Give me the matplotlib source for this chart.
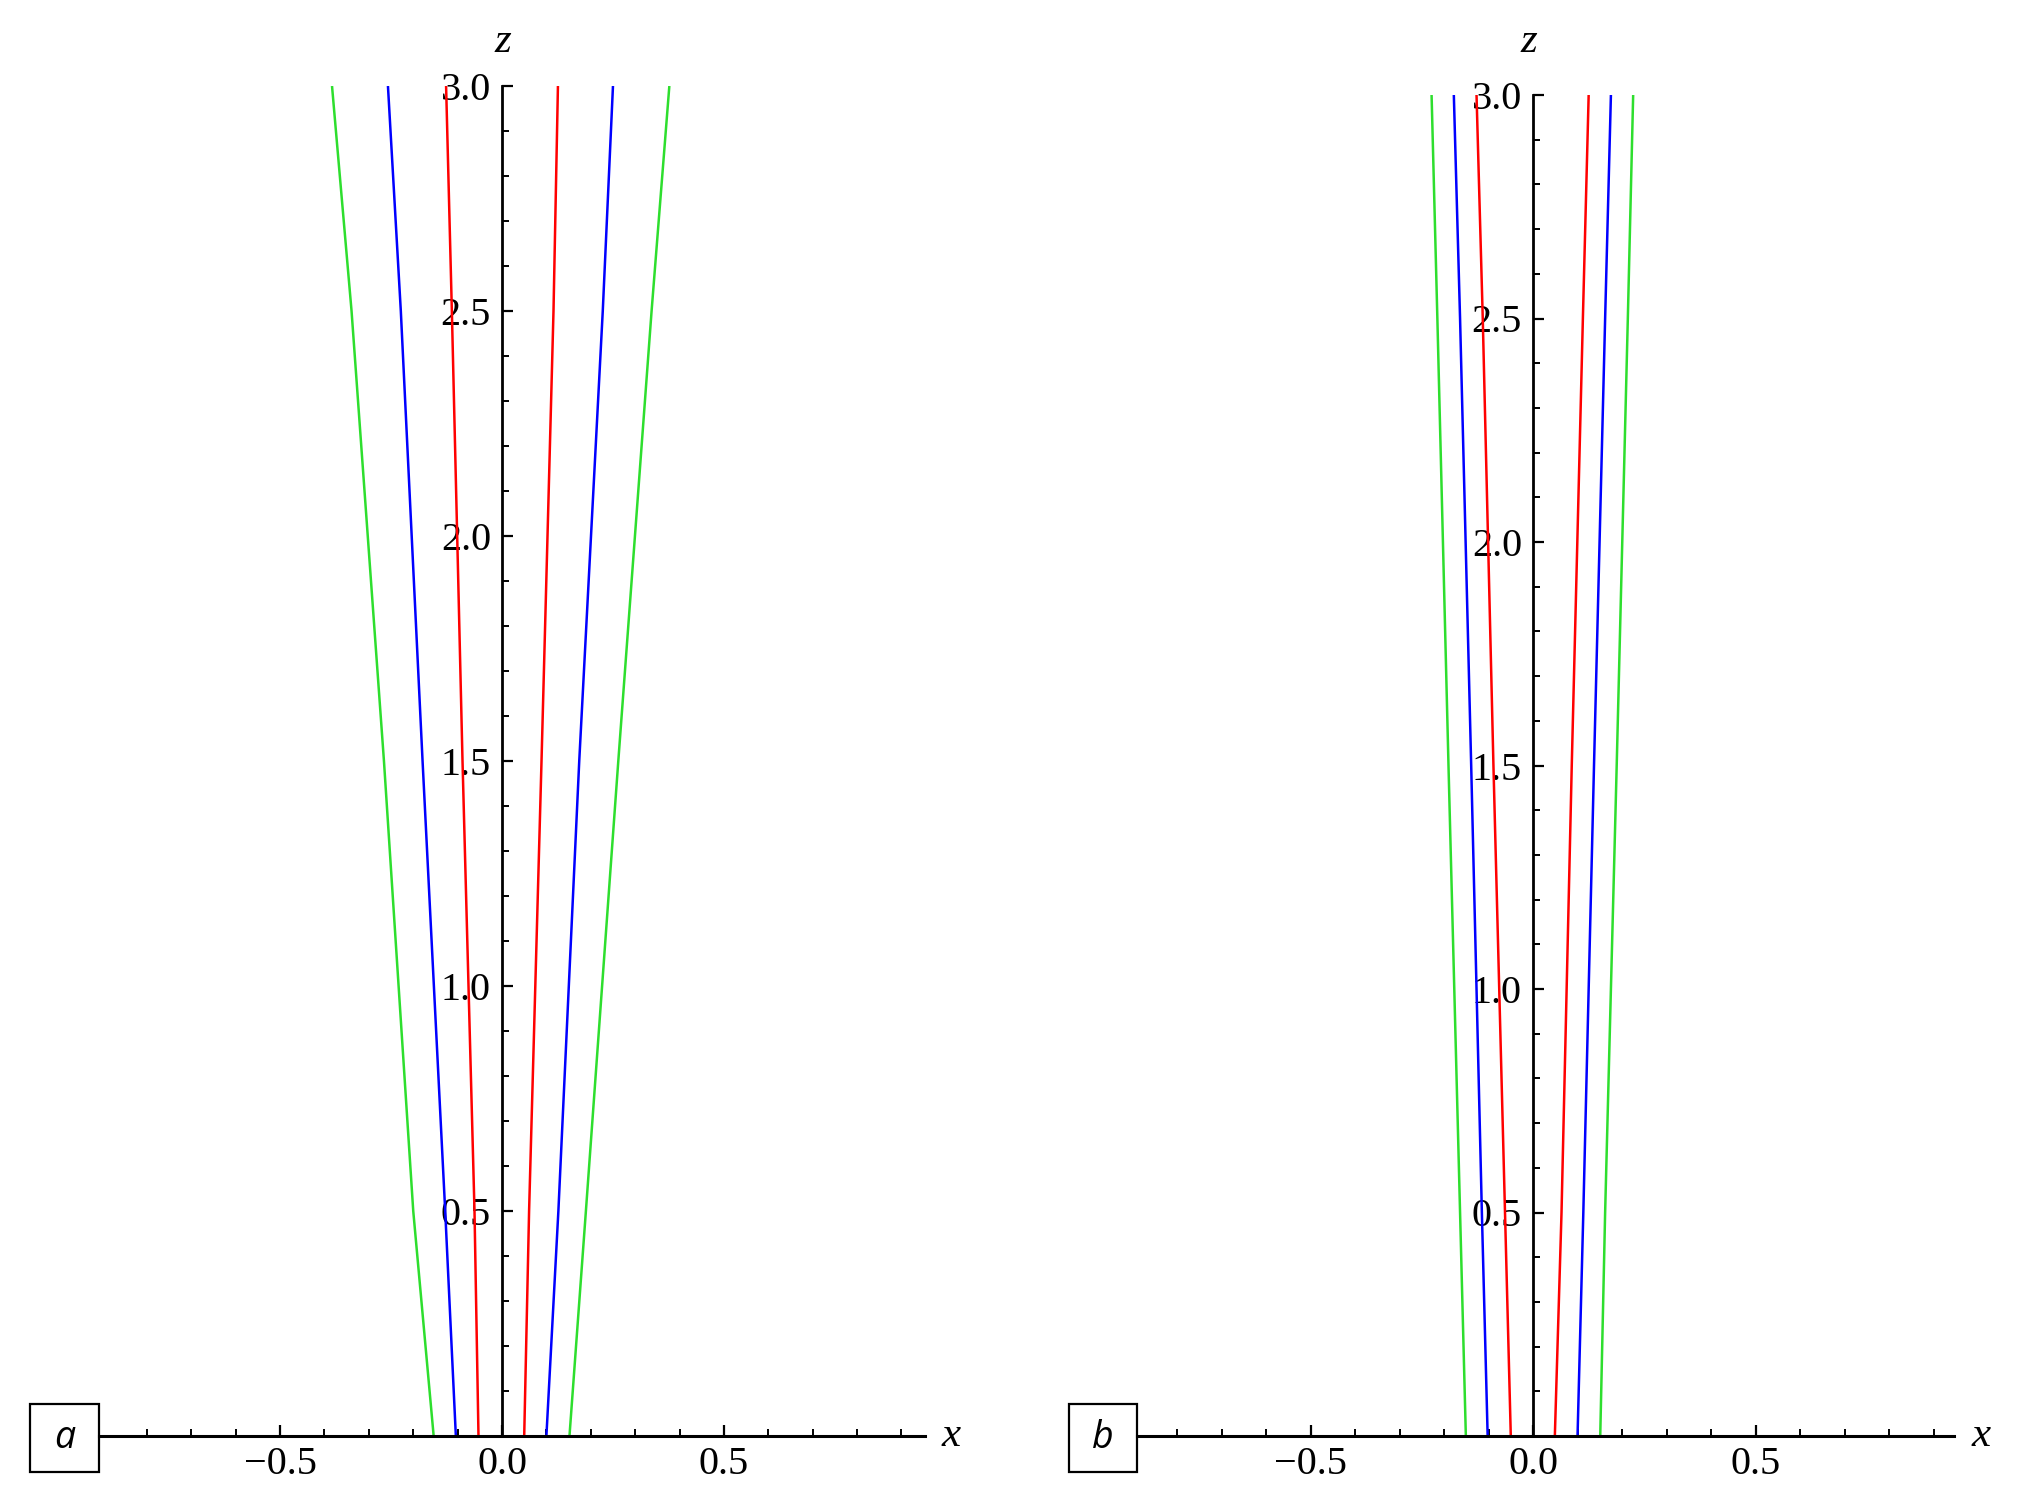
import matplotlib
matplotlib.use("Agg")
import matplotlib.pyplot as plt
from matplotlib.patches import Rectangle
import numpy as np

# ---- data ----
z_levels = [0.0, 0.5, 1.5, 2.5, 3.0]

a_red_left = [-0.053, -0.062, -0.089, -0.113, -0.126]
a_red_right = [0.050, 0.061, 0.089, 0.116, 0.126]
a_blue_left = [-0.104, -0.128, -0.179, -0.228, -0.257]
a_blue_right = [0.100, 0.127, 0.174, 0.227, 0.250]
a_green_left = [-0.154, -0.200, -0.266, -0.339, -0.383]
a_green_right = [0.152, 0.189, 0.262, 0.337, 0.377]

b_red_left = [-0.050, -0.063, -0.089, -0.113, -0.127]
b_red_right = [0.049, 0.064, 0.087, 0.112, 0.125]
b_blue_left = [-0.102, -0.115, -0.139, -0.164, -0.178]
b_blue_right = [0.100, 0.113, 0.137, 0.162, 0.175]
b_green_left = [-0.151, -0.164, -0.190, -0.215, -0.228]
b_green_right = [0.151, 0.162, 0.188, 0.213, 0.225]

x_major = [-0.5, 0.0, 0.5]
x_major_labels = ["\u22120.5", "0.0", "0.5"]
x_minor = [-0.8, -0.7, -0.6, -0.4, -0.3, -0.2, -0.1, 0.1, 0.2, 0.3, 0.4, 0.6, 0.7, 0.8, 0.9]
z_major = [0.5, 1.0, 1.5, 2.0, 2.5, 3.0]
z_major_labels = ["0.5", "1.0", "1.5", "2.0", "2.5", "3.0"]
z_minor = [round(0.1 * i, 1) for i in range(1, 30) if i % 5 != 0]

panel_labels = ["a", "b"]

RED = "#ff0000"
BLUE = "#0000ff"
GREEN = "#2ede2e"

W, H = 2020, 1495
fig = plt.figure(figsize=(W / 100, H / 100), dpi=100)

def px_axes(left, right, top, bottom):
    return fig.add_axes([left / W, (H - bottom) / H, (right - left) / W, (bottom - top) / H])

serif = ["Liberation Serif", "DejaVu Serif"]

def setup(ax, xlim):
    ax.set_xlim(*xlim)
    ax.set_ylim(0, 3.0)
    for s in ["top", "right"]:
        ax.spines[s].set_visible(False)
    ax.spines["left"].set_position(("data", 0))
    ax.spines["left"].set_linewidth(2.0)
    ax.spines["bottom"].set_linewidth(2.2)
    ax.set_xticks(x_major)
    ax.set_xticklabels(x_major_labels)
    ax.set_xticks(x_minor, minor=True)
    ax.set_yticks(z_major)
    ax.set_yticklabels(z_major_labels)
    ax.set_yticks(z_minor, minor=True)
    ax.tick_params(axis="both", which="major", direction="in", length=8, width=1.6,
                   labelsize=29, color="black")
    ax.tick_params(axis="both", which="minor", direction="in", length=5, width=1.4,
                   color="black")
    ax.tick_params(axis="x", which="major", pad=7)
    ax.tick_params(axis="y", which="major", pad=8)
    for lab in ax.get_xticklabels() + ax.get_yticklabels():
        lab.set_family(serif)
    ax.patch.set_visible(False)

def draw_box(xl, xr, yt, yb, text):
    fig.add_artist(Rectangle((xl / W, (H - yb) / H), (xr - xl) / W, (yb - yt) / H,
                             transform=fig.transFigure, fill=False, lw=1.6, ec="black"))
    fig.text((xl + xr) / 2 / W, (H - (yt + yb) / 2) / H, text, ha="center", va="center",
             fontsize=27, style="italic", family=["Open Sans", "DejaVu Sans"])

# ---- panel a ----
axa = px_axes(99, 925, 86, 1436)
setup(axa, (-0.908, 0.953))
for xs, c in [(a_green_left, GREEN), (a_blue_left, BLUE), (a_red_left, RED),
              (a_red_right, RED), (a_blue_right, BLUE), (a_green_right, GREEN)]:
    axa.plot(xs, z_levels, color=c, lw=1.8, solid_capstyle="butt")
fig.text(951 / W, (H - 1436) / H, "x", ha="center", va="center", fontsize=31,
         style="italic", family=serif)
fig.text(503 / W, (H - 42) / H, "z", ha="center", va="center", fontsize=31,
         style="italic", family=serif)
draw_box(30, 99, 1404, 1472, panel_labels[0])

# ---- panel b ----
axb = px_axes(1137, 1954, 95, 1436)
setup(axb, (-0.890, 0.946))
for xs, c in [(b_green_left, GREEN), (b_blue_left, BLUE), (b_red_left, RED),
              (b_red_right, RED), (b_blue_right, BLUE), (b_green_right, GREEN)]:
    axb.plot(xs, z_levels, color=c, lw=1.8, solid_capstyle="butt")
fig.text(1981 / W, (H - 1436) / H, "x", ha="center", va="center", fontsize=31,
         style="italic", family=serif)
fig.text(1529 / W, (H - 42) / H, "z", ha="center", va="center", fontsize=31,
         style="italic", family=serif)
draw_box(1069, 1137, 1404, 1472, panel_labels[1])

fig.savefig("out.png", dpi=100, facecolor="white")
